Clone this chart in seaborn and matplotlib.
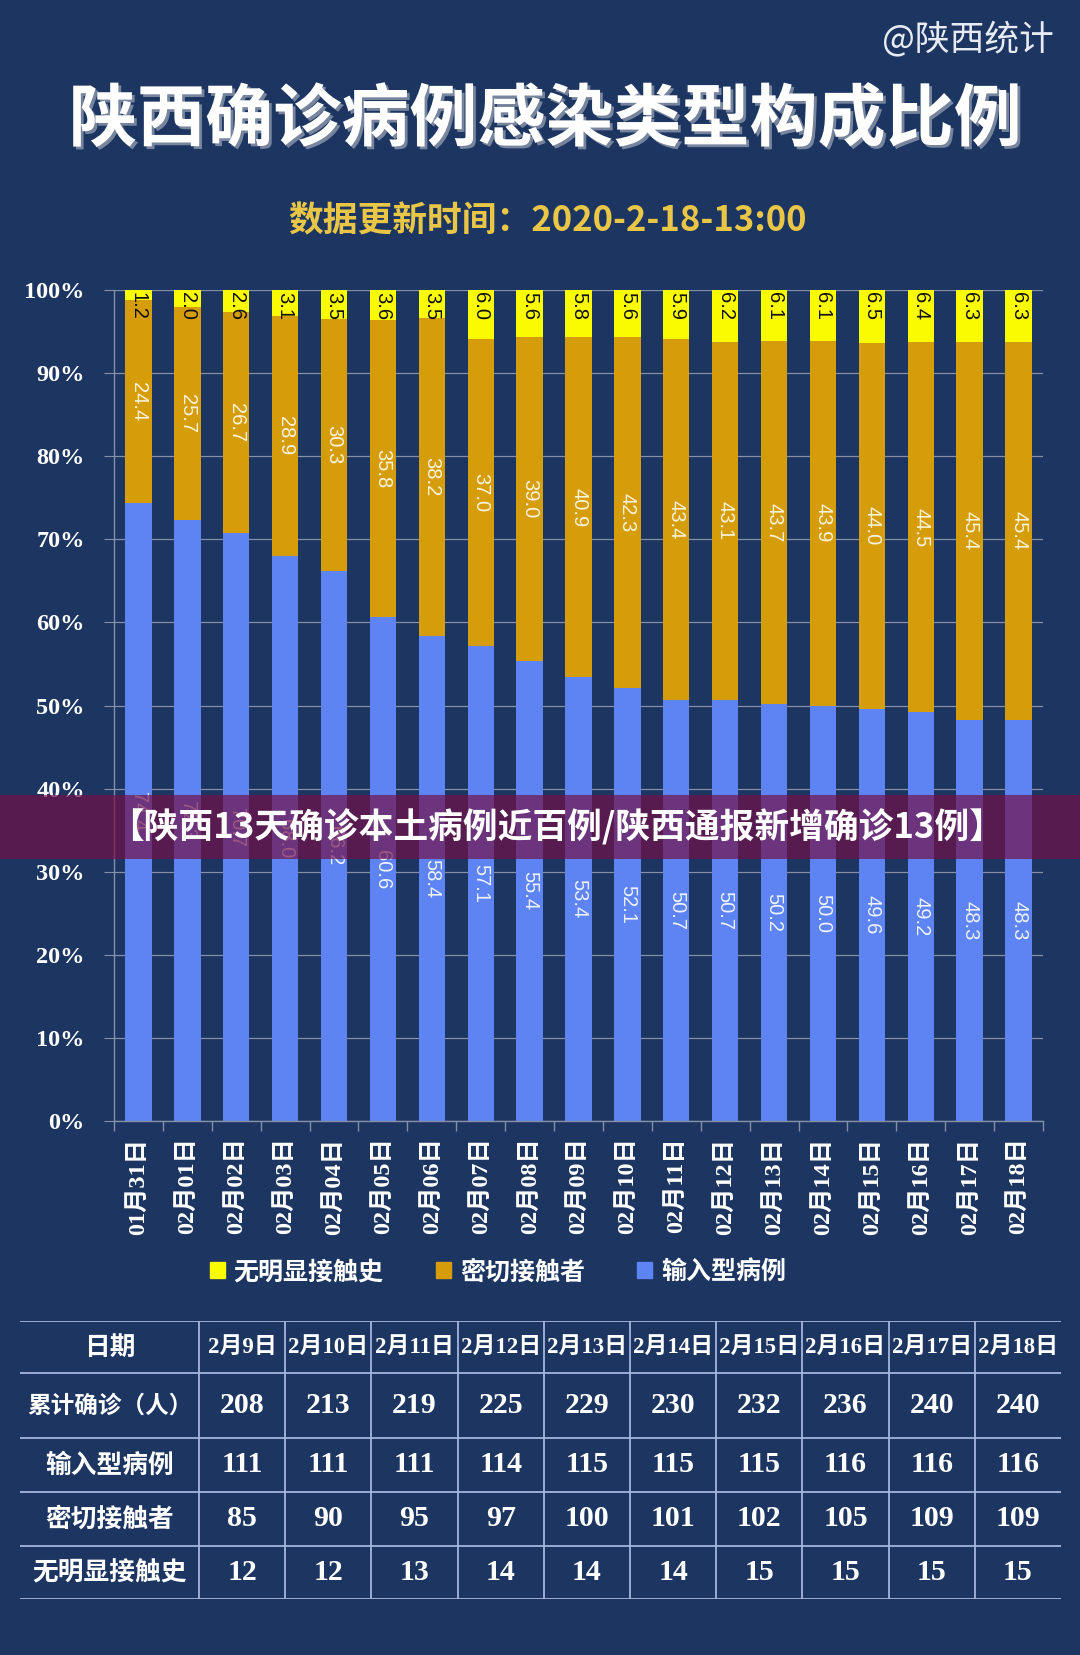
import numpy as np
import pandas as pd
import matplotlib
matplotlib.use("Agg")
import matplotlib.pyplot as plt
import matplotlib.patheffects as pe
from matplotlib.patches import Rectangle, Patch
import seaborn as sns

# ---- chart data (percent of confirmed cases) ----
dates = ["01月31日", "02月01日", "02月02日", "02月03日", "02月04日", "02月05日",
         "02月06日", "02月07日", "02月08日", "02月09日", "02月10日", "02月11日",
         "02月12日", "02月13日", "02月14日", "02月15日", "02月16日", "02月17日",
         "02月18日"]
imported = [74.4, 72.3, 70.7, 68.0, 66.2, 60.6, 58.4, 57.1, 55.4, 53.4,
            52.1, 50.7, 50.7, 50.2, 50.0, 49.6, 49.2, 48.3, 48.3]
close_contact = [24.4, 25.7, 26.7, 28.9, 30.3, 35.8, 38.2, 37.0, 39.0, 40.9,
                 42.3, 43.4, 43.1, 43.7, 43.9, 44.0, 44.5, 45.4, 45.4]
no_contact = [1.2, 2.0, 2.6, 3.1, 3.5, 3.6, 3.5, 6.0, 5.6, 5.8,
              5.6, 5.9, 6.2, 6.1, 6.1, 6.5, 6.4, 6.3, 6.3]
series_names = ["无明显接触史", "密切接触者", "输入型病例"]

# ---- table data ----
table_dates = ["2月9日", "2月10日", "2月11日", "2月12日", "2月13日",
               "2月14日", "2月15日", "2月16日", "2月17日", "2月18日"]
table_total = [208, 213, 219, 225, 229, 230, 232, 236, 240, 240]
table_imported = [111, 111, 111, 114, 115, 115, 115, 116, 116, 116]
table_close = [85, 90, 95, 97, 100, 101, 102, 105, 109, 109]
table_none = [12, 12, 13, 14, 14, 14, 15, 15, 15, 15]
row_labels = ["日期", "累计确诊（人）", "输入型病例", "密切接触者", "无明显接触史"]

BG = "#1c3561"
BLUE = "#5d84f2"
ORANGE = "#d59d0a"
YELLOW = "#fbfb00"
GRID = "#8390a8"
CJK = ["Noto Sans CJK SC", "DejaVu Sans"]
SERIF = ["Liberation Serif", "Noto Sans CJK SC"]

W, H = 1080, 1655


def fx(x):
    return x / W


def fy(y):
    return 1 - y / H


fig = plt.figure(figsize=(W / 100, H / 100), dpi=100, facecolor=BG)

# header texts
fig.text(fx(1054), fy(39), "@陕西统计", ha="right", va="center",
         fontsize=25, color="#e8ebf2", family=CJK)
fig.text(fx(545), fy(121), "陕西确诊病例感染类型构成比例", ha="center", va="center",
         fontsize=49, weight="bold", color="white", family=CJK,
         path_effects=[pe.withSimplePatchShadow(offset=(2, -2),
                                                shadow_rgbFace="#8f99ad", alpha=0.8)])
fig.text(fx(547), fy(221), "数据更新时间：2020-2-18-13:00", ha="center", va="center",
         fontsize=25, weight="bold", color="#e9c646", family=CJK)

# ---- stacked bar chart ----
df = pd.DataFrame({"date": dates, "imported": imported,
                   "close": close_contact, "none": no_contact})
df["mid"] = df["imported"] + df["close"]
df["top"] = df["mid"] + df["none"]

ax = fig.add_axes([fx(114), fy(1121), (1043 - 114) / W, (1121 - 290) / H])
ax.set_facecolor("none")
for col, colour in [("top", YELLOW), ("mid", ORANGE), ("imported", BLUE)]:
    sns.barplot(data=df, x="date", y=col, color=colour, saturation=1,
                width=0.54, errorbar=None, linewidth=0, ax=ax)

ax.set_xlim(-0.5, len(dates) - 0.5)
ax.set_ylim(0, 100)
ax.set_xlabel("")
ax.set_ylabel("")
ax.set_axisbelow(True)
ax.yaxis.grid(True, color=GRID, lw=0.9)
for side in ["top", "right"]:
    ax.spines[side].set_visible(False)
for side in ["left", "bottom"]:
    ax.spines[side].set_color(GRID)
    ax.spines[side].set_linewidth(1)

yt = np.arange(0, 101, 10)
ax.set_yticks(yt)
ax.set_yticklabels([f"{v}%" for v in yt], fontsize=17.5, fontweight="bold",
                   family="Liberation Serif", color="white")
ax.tick_params(axis="y", length=7, color=GRID, pad=14)

ax.set_xticks(np.arange(len(dates)))
ax.set_xticklabels(dates, rotation=90, fontsize=17.5, fontweight="bold",
                   family=SERIF, color="white")
ax.set_xticks(np.arange(len(dates) + 1) - 0.5, minor=True)
ax.tick_params(axis="x", which="major", length=0, pad=12)
ax.tick_params(axis="x", which="minor", length=7, color=GRID, width=1)

# segment labels
for i, r in df.iterrows():
    ax.text(i, r["imported"] / 2, f"{r['imported']:.1f}", rotation=270,
            ha="center", va="center", fontsize=14.5, color="#eef2fb",
            family="Liberation Sans")
    ax.text(i, r["imported"] + r["close"] / 2, f"{r['close']:.1f}", rotation=270,
            ha="center", va="center", fontsize=14.5, color="#faf3dc",
            family="Liberation Sans")
    ax.text(i, 99.8, f"{r['none']:.1f}", rotation=270, ha="center", va="top",
            fontsize=14.5, color="#111111", family="Liberation Sans")

# legend
handles = [Patch(color=c) for c in [YELLOW, ORANGE, BLUE]]
fig.legend(handles, series_names, loc="center", ncol=3,
           bbox_to_anchor=(fx(498), fy(1272)), frameon=False,
           handlelength=0.6, handleheight=0.6, handletextpad=0.35,
           columnspacing=2.1, labelcolor="white",
           prop={"family": CJK, "weight": "bold", "size": 18})

# ---- data table ----
t_left, t_right, t_top, t_bottom = 20, 1061, 1321, 1599
row_edges = [1321, 1373, 1438, 1492, 1546, 1599]
first_col = 199
col_w = (t_right - first_col) / len(table_dates)
col_edges = [t_left] + [first_col + k * col_w for k in range(len(table_dates) + 1)]

tax = fig.add_axes([fx(t_left), fy(t_bottom), (t_right - t_left) / W,
                    (t_bottom - t_top) / H])
tax.set_xlim(t_left, t_right)
tax.set_ylim(t_bottom, t_top)
tax.axis("off")
LINE = "#a6b6de"
for y in row_edges:
    tax.axhline(y, color=LINE, lw=1.3)
for x in col_edges[1:-1]:
    tax.axvline(x, color=LINE, lw=1.3)

rows = [table_dates, table_total, table_imported, table_close, table_none]
for ri, (label, vals) in enumerate(zip(row_labels, rows)):
    yc = (row_edges[ri] + row_edges[ri + 1]) / 2
    lsize = 17 if ri == 1 else 18.5
    tax.text((col_edges[0] + col_edges[1]) / 2, yc, label, ha="center", va="center",
             fontsize=lsize, weight="bold", color="white", family=CJK)
    for ci, v in enumerate(vals):
        xc = (col_edges[ci + 1] + col_edges[ci + 2]) / 2
        if ri == 0:
            tax.text(xc, yc, v, ha="center", va="center", fontsize=16.5,
                     weight="bold", color="white", family=SERIF)
        else:
            tax.text(xc, yc, str(v), ha="center", va="center", fontsize=21.5,
                     weight="bold", color="white", family="Liberation Serif")

# news banner across the chart
fig.patches.append(Rectangle((0, fy(859)), 1, (859 - 795) / H, transform=fig.transFigure,
                             color="#760f48", alpha=0.68, zorder=10, lw=0))
fig.text(fx(557), fy(827), "【陕西13天确诊本土病例近百例/陕西通报新增确诊13例】",
         ha="center", va="center", fontsize=25, weight="bold", color="white",
         family=CJK, zorder=11)

fig.savefig("out.png", dpi=100, facecolor=BG)
